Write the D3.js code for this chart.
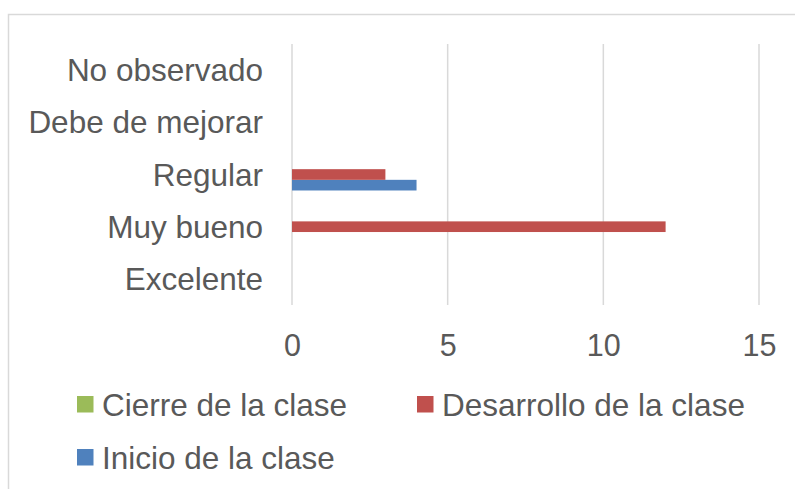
<!DOCTYPE html>
<html>
<head>
<meta charset="utf-8">
<script src="https://cdn.jsdelivr.net/npm/d3@7"></script>
<style>
  body { margin: 0; background: #fff; }
  svg { display: block; font-family: "Liberation Sans", Arial, sans-serif; }
</style>
</head>
<body>
<svg id="chart" width="795" height="489"></svg>
<script>
// categories bottom -> top, as Excel draws them
var categories = ['Excelente', 'Muy bueno', 'Regular', 'Debe de mejorar', 'No observado']
var inicio = [0, 0, 4, 0, 0]
var desarrollo = [0, 12, 3, 0, 0]
var cierre = [0, 0, 0, 0, 0]
var xTicks = [0, 5, 10, 15]

var series = [
  { name: 'Inicio de la clase', values: inicio, color: '#4f81bd' },
  { name: 'Desarrollo de la clase', values: desarrollo, color: '#c0504d' },
  { name: 'Cierre de la clase', values: cierre, color: '#9bbb59' }
]

var config = {
  left: 292, right: 759, top: 44, bottom: 305,
  gap: 1.9,
  text: '#595959',
  grid: '#d9d9d9'
}

var svg = d3.select('#chart')

// outer chart border (only top/left visible in the picture)
svg.append('rect')
    .attr('x', 8.5).attr('y', 14.5)
    .attr('width', 820).attr('height', 520)
    .attr('fill', 'none')
    .attr('stroke', config.grid)
    .attr('stroke-width', 1.5)

var x = d3.scaleLinear()
    .domain([0, 15])
    .range([config.left, config.right])

var y = d3.scaleBand()
    .domain(categories.slice().reverse())
    .range([config.top, config.bottom])

var barH = y.bandwidth() / (series.length + config.gap)
var groupH = barH * series.length

// top to bottom inside a group: Cierre, Desarrollo, Inicio
var inner = d3.scaleBand()
    .domain(series.map(s => s.name).reverse())
    .range([(y.bandwidth() - groupH) / 2, (y.bandwidth() + groupH) / 2])

// gridlines
svg.append('g').selectAll('line')
    .data(xTicks)
    .enter().append('line')
    .attr('x1', d => x(d)).attr('x2', d => x(d))
    .attr('y1', config.top).attr('y2', config.bottom)
    .attr('stroke', config.grid)
    .attr('stroke-width', 1.5)

// bars
series.forEach(function (s) {
  svg.append('g').selectAll('rect')
    .data(categories.map((c, i) => ({ cat: c, v: s.values[i] })))
    .enter().append('rect')
    .attr('x', x(0))
    .attr('y', d => y(d.cat) + inner(s.name))
    .attr('width', d => x(d.v) - x(0))
    .attr('height', inner.bandwidth())
    .attr('fill', s.color)
})

// category labels
svg.append('g').selectAll('text')
    .data(categories)
    .enter().append('text')
    .attr('x', 263)
    .attr('y', d => y(d) + y.bandwidth() / 2)
    .attr('dy', '0.35em')
    .attr('text-anchor', 'end')
    .attr('font-size', 31.5)
    .attr('fill', config.text)
    .text(d => d)

// x axis labels
var axis = svg.append('g')
    .attr('transform', 'translate(0,' + 325 + ')')
    .call(d3.axisBottom(x).tickValues(xTicks).tickSize(0).tickPadding(0))
axis.select('.domain').remove()
axis.selectAll('text')
    .attr('font-size', 30.5)
    .attr('font-family', '"Liberation Sans", Arial, sans-serif')
    .attr('fill', config.text)
    .attr('dy', '0.71em')
    .attr('y', 9)

// legend
var legendItems = [
  { s: series[2], x: 77, y: 396 },
  { s: series[1], x: 417, y: 396 },
  { s: series[0], x: 77, y: 449 }
]

var legend = svg.append('g').selectAll('g')
    .data(legendItems)
    .enter().append('g')
    .attr('transform', d => `translate(${d.x}, ${d.y})`)

legend.append('rect')
    .attr('width', 16.5).attr('height', 16.5)
    .attr('fill', d => d.s.color)

legend.append('text')
    .attr('x', 25)
    .attr('y', 19.7)
    .attr('font-size', 31.5)
    .attr('fill', config.text)
    .text(d => d.s.name)
</script>
</body>
</html>
